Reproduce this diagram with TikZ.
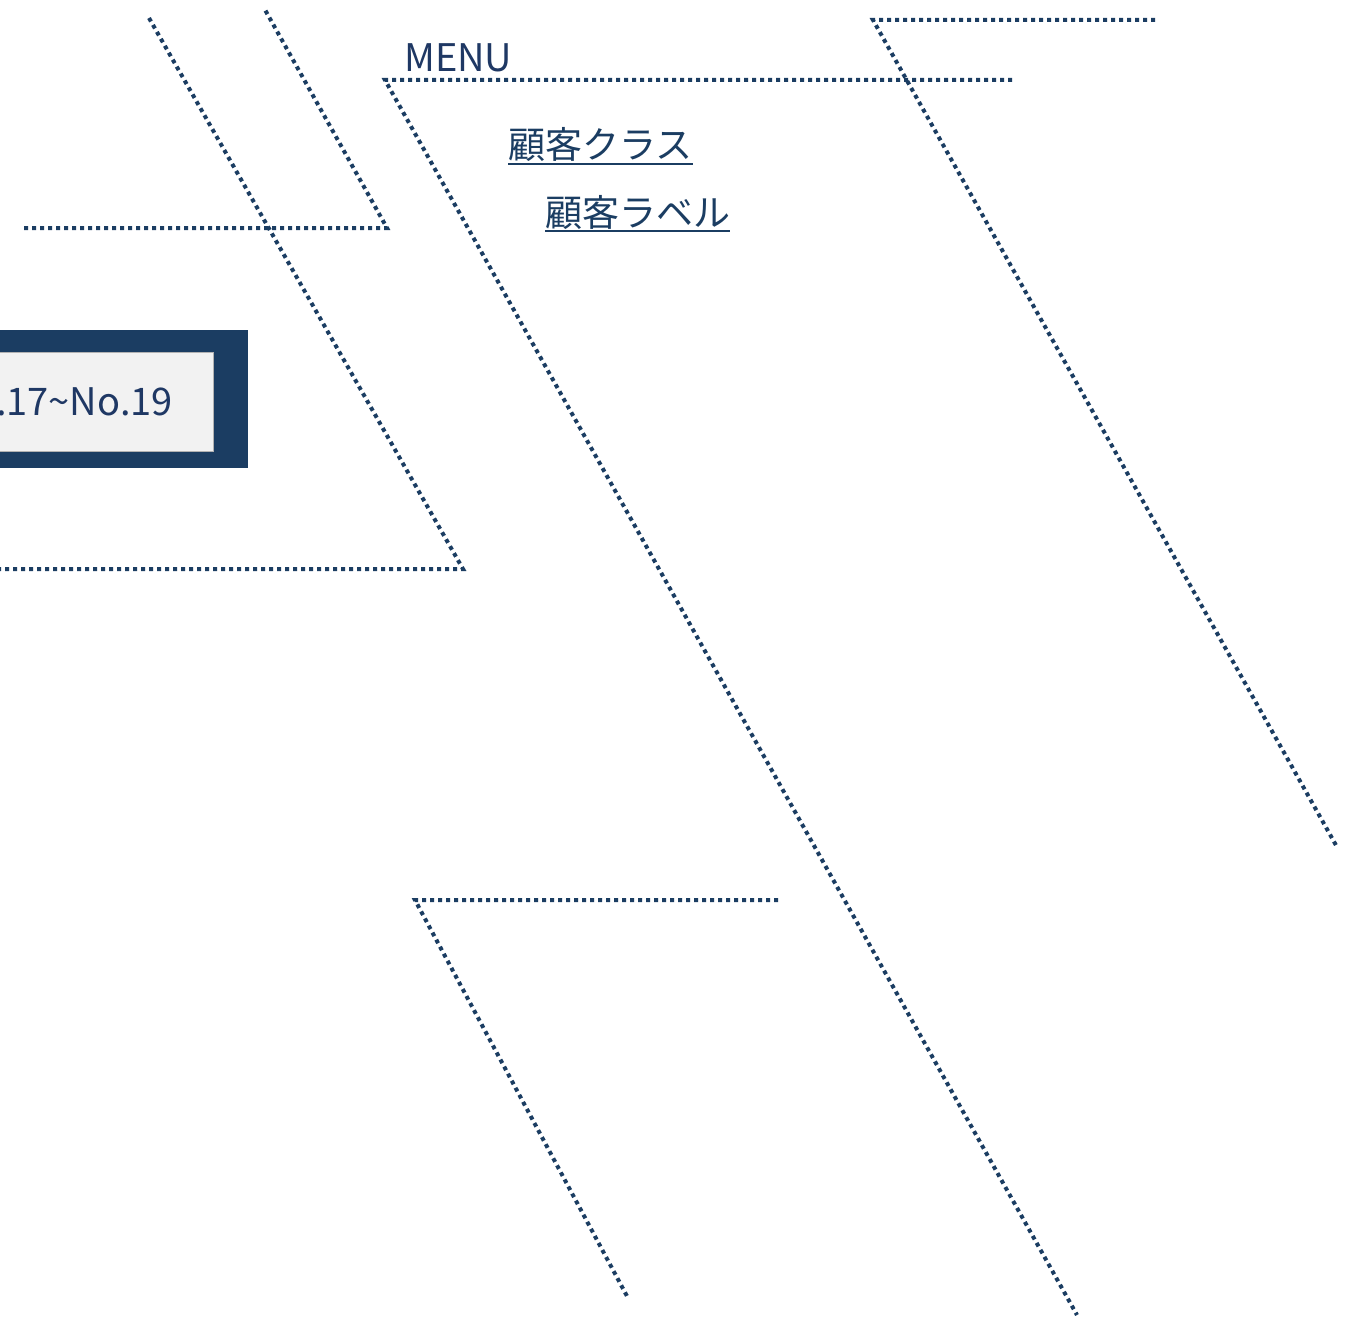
\documentclass[tikz,border=0pt]{standalone}
\usepackage{fontspec}
\setmainfont{Noto Sans CJK JP}
\definecolor{navy}{HTML}{1B3D62}
\definecolor{navytext}{HTML}{1F3864}
\definecolor{boxgray}{HTML}{F2F2F2}
\tikzset{
  dotline/.style={draw=navy, line width=4pt, dash pattern=on 4pt off 4pt},
  ultext/.style={inner sep=0pt, anchor=base west, text=navy, font=\fontsize{37}{40}\selectfont},
  ulline/.style={draw=navy, line width=2.2pt},
}
\begin{document}
\begin{tikzpicture}[x=1pt, y=-1pt]
\fill[white] (0,0) rectangle (1345,1319);
\useasboundingbox (0,0) rectangle (1345,1319);
\begin{scope}
\clip (0,0) rectangle (1345,1319);
% dotted polylines
\coordinate (a1) at (24,228); \coordinate (a2) at (387,228); \coordinate (a3) at (264,8);
\draw[dotline] (a1) -- (a2) -- (a3);
\coordinate (b1) at (149,18); \coordinate (b2) at (463,569); \coordinate (b3) at (0,569);
\draw[dotline] (b1) -- (b2) -- (b3);
\coordinate (c1) at (1012,80); \coordinate (c2) at (385,80); \coordinate (c3) at (1077,1315);
\draw[dotline] (c1) -- (c2) -- (c3);
\coordinate (d1) at (1155,20); \coordinate (d2) at (873,20); \coordinate (d3) at (1337,847);
\draw[dotline] (d1) -- (d2) -- (d3);
\coordinate (e1) at (778,900); \coordinate (e2) at (415,900); \coordinate (e3) at (628,1298);
\draw[dotline] (e1) -- (e2) -- (e3);
% box
\fill[navy] (0,330) rectangle (248,468);
\filldraw[fill=boxgray, draw=gray!60, line width=0.8pt] (-2,352) rectangle (213,451);
\node[inner sep=0pt, anchor=base east, text=navytext, font=\fontsize{38}{40}\selectfont] (no) at (173,415) {.17\char"007E No.19};
\end{scope}
% menu
\node[inner sep=0pt, anchor=base west, text=navytext, font=\fontsize{38}{40}\selectfont] (menu) at (404,72) {MENU};
\node[ultext] (k1) at (508,159) {顧客クラス};
\draw[ulline] ([yshift=-5pt]k1.base west) -- ([yshift=-5pt]k1.base east);
\node[ultext] (k2) at (545,226) {顧客ラベル};
\draw[ulline] ([yshift=-5pt]k2.base west) -- ([yshift=-5pt]k2.base east);
\end{tikzpicture}
\end{document}
